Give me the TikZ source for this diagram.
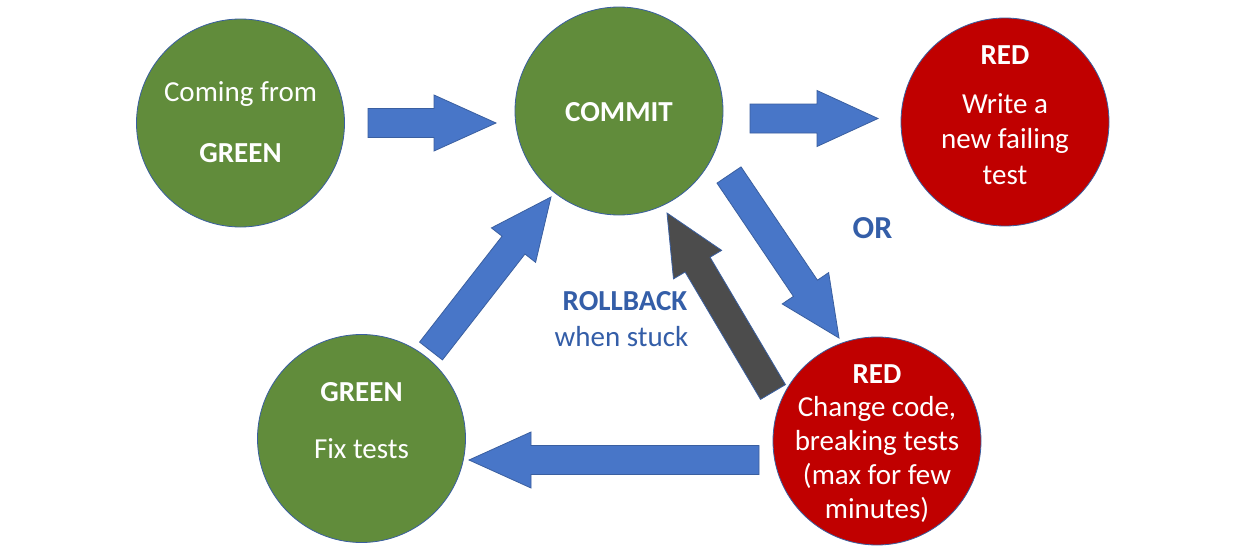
\documentclass[tikz,border=0pt]{standalone}
\usepackage{fontspec}
\setmainfont{Carlito}
\usetikzlibrary{calc}
\definecolor{cgreen}{RGB}{97,140,59}
\definecolor{cred}{RGB}{192,0,0}
\definecolor{cblue}{RGB}{72,118,200}
\definecolor{cedge}{RGB}{58,95,160}
\definecolor{cgray}{RGB}{76,76,76}
\definecolor{ctext}{RGB}{52,94,168}
\newcommand\blockarrow[4]{%
  \coordinate (hb) at ($(#2)!#4pt!(#1)$);
  \filldraw[#3,draw=cedge,line width=0.8pt,line join=miter]
    ($(#1)!14.5pt!90:(#2)$) -- ($(hb)!14.5pt!90:(#2)$) -- ($(hb)!28pt!90:(#2)$)
    -- (#2) -- ($(hb)!28pt!-90:(#2)$) -- ($(hb)!14.5pt!-90:(#2)$)
    -- ($(#1)!14.5pt!-90:(#2)$) -- cycle;}
\begin{document}
\begin{tikzpicture}[x=1pt,y=-1pt,
  circ/.style={circle,inner sep=0pt,minimum size=208pt,draw=cedge,line width=0.8pt},
  wt/.style={anchor=base,text=white,font=\fontsize{29}{35}\selectfont},
  wtb/.style={wt,font=\fontsize{29}{35}\selectfont\bfseries},
  bt/.style={anchor=base,text=ctext,font=\fontsize{29}{35}\selectfont}]
\useasboundingbox (0,0) rectangle (1243,554);
\fill[white] (0,0) rectangle (1243,554);
% circles
\node[circ,fill=cgreen] (from) at (240.5,123) {};
\node[circ,fill=cgreen] (commit) at (619,111) {};
\node[circ,fill=cred] (redtop) at (1005,122) {};
\node[circ,fill=cgreen] (green) at (361.5,438.5) {};
\node[circ,fill=cred] (redbot) at (877,441) {};
% texts
\node[wt] (t1) at (240.5,101) {Coming from};
\node[wtb] (t2) at (240.5,162) {GREEN};
\node[wtb] (t3) at (619,121) {COMMIT};
\node[wtb] (t4) at (1005,64) {RED};
\node[wt] (t5) at (1005,113) {Write a};
\node[wt] (t6) at (1005,148.5) {new failing};
\node[wt] (t7) at (1005,184) {test};
\node[wtb] (t8) at (361.5,401.5) {GREEN};
\node[wt] (t9) at (361.5,458.5) {Fix tests};
\node[wtb] (t10) at (877,383.5) {RED};
\node[wt] (t11) at (877,416.5) {Change code,};
\node[wt] (t12) at (877,450.5) {breaking tests};
\node[wt] (t13) at (877,484.5) {(max for few};
\node[wt] (t14) at (877,518.5) {minutes)};
\node[bt,font=\fontsize{32}{38}\selectfont\bfseries] (or) at (872.5,238.5) {OR};
\node[bt,font=\fontsize{29}{35}\selectfont\bfseries] (rb) at (625,310.5) {ROLLBACK};
\node[bt] (ws) at (621.5,346.5) {when stuck};
% arrow end points
\coordinate (a1s) at (368,123);   \coordinate (a1e) at (496,123);
\coordinate (a2s) at (750,118.5); \coordinate (a2e) at (878,118.5);
\coordinate (a3s) at (729,175);   \coordinate (a3e) at (839,338);
\coordinate (a4s) at (773,392);   \coordinate (a4e) at (667,213);
\coordinate (a5s) at (431,351);   \coordinate (a5e) at (551,197);
\coordinate (a6s) at (759,460);   \coordinate (a6e) at (469,460);
\blockarrow{a1s}{a1e}{fill=cblue}{62}
\blockarrow{a2s}{a2e}{fill=cblue}{61}
\blockarrow{a3s}{a3e}{fill=cblue}{60}
\blockarrow{a4s}{a4e}{fill=cgray}{60}
\blockarrow{a5s}{a5e}{fill=cblue}{61}
\blockarrow{a6s}{a6e}{fill=cblue}{62}
\end{tikzpicture}
\end{document}
